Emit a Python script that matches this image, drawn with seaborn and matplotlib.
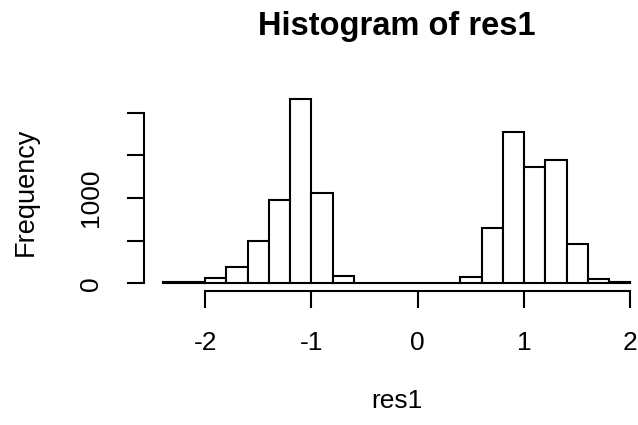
import numpy as np
import pandas as pd
import matplotlib
matplotlib.use("Agg")
import matplotlib.pyplot as plt
import seaborn as sns

# Histogram bins (R default breaks) and counts
bin_edges = [-2.4, -2.2, -2.0, -1.8, -1.6, -1.4, -1.2, -1.0, -0.8, -0.6, -0.4,
             -0.2, 0.0, 0.2, 0.4, 0.6, 0.8, 1.0, 1.2, 1.4, 1.6, 1.8, 2.0]
counts = [10, 12, 58, 195, 495, 975, 2155, 1060, 88, 8, 4,
          3, 3, 6, 80, 645, 1770, 1365, 1445, 465, 45, 12]
x_ticks = [-2, -1, 0, 1, 2]
y_ticks = [0, 500, 1000, 1500, 2000]
y_tick_labels = ["0", "", "1000", "", ""]

sns.set_style("white")
plt.rcParams['font.family'] = ['Liberation Sans', 'DejaVu Sans']
plt.rcParams['text.color'] = 'black'

centers = [(a + b) / 2 for a, b in zip(bin_edges[:-1], bin_edges[1:])]
df = pd.DataFrame({"res1": centers, "count": counts})

W, H = 638, 425
fig = plt.figure(figsize=(W / 100, H / 100), dpi=100)
left, right, top, bottom = 144, 649, 92, 290.7
ax = fig.add_axes([left / W, 1 - bottom / H, (right - left) / W, (bottom - top) / H])

sns.histplot(data=df, x="res1", weights="count", bins=bin_edges, ax=ax,
             stat="count", color="white", edgecolor="black", linewidth=1.5,
             alpha=1.0)

ymax = max(counts)
ax.set_xlim(-2.4 - 0.04 * 4.4, 2.0 + 0.04 * 4.4)
ax.set_ylim(-0.04 * ymax, ymax * 1.04)

for s in ["top", "right"]:
    ax.spines[s].set_visible(False)
ax.spines["bottom"].set_bounds(-2, 2)
ax.spines["left"].set_bounds(0, 2000)
for s in ["bottom", "left"]:
    ax.spines[s].set_linewidth(1.5)
    ax.spines[s].set_color("black")

ax.set_xticks(x_ticks)
ax.set_xticklabels([str(t) for t in x_ticks])
ax.set_yticks(y_ticks)
ax.set_yticklabels(y_tick_labels, rotation=90, va="center")
ax.tick_params(axis="both", direction="out", length=12.2, width=1.5,
               colors="black", labelcolor="black", labelsize=19,
               bottom=True, left=True)
ax.tick_params(axis="x", pad=17)
ax.tick_params(axis="y", pad=17)
ax.set_xlabel("")
ax.set_ylabel("")

cx = (left + right) / 2
fig.text(cx / W, 1 - 35 / H, "Histogram of res1", ha="center", va="baseline",
         fontsize=23.5, fontweight="bold", color="black")
fig.text(cx / W, 1 - 408 / H, "res1", ha="center", va="baseline", fontsize=19,
         color="black")
fig.text(26 / W, 1 - 192 / H, "Frequency", ha="center", va="center",
         rotation=90, fontsize=19.5, color="black")

fig.savefig("out.png", dpi=100, facecolor="white")
